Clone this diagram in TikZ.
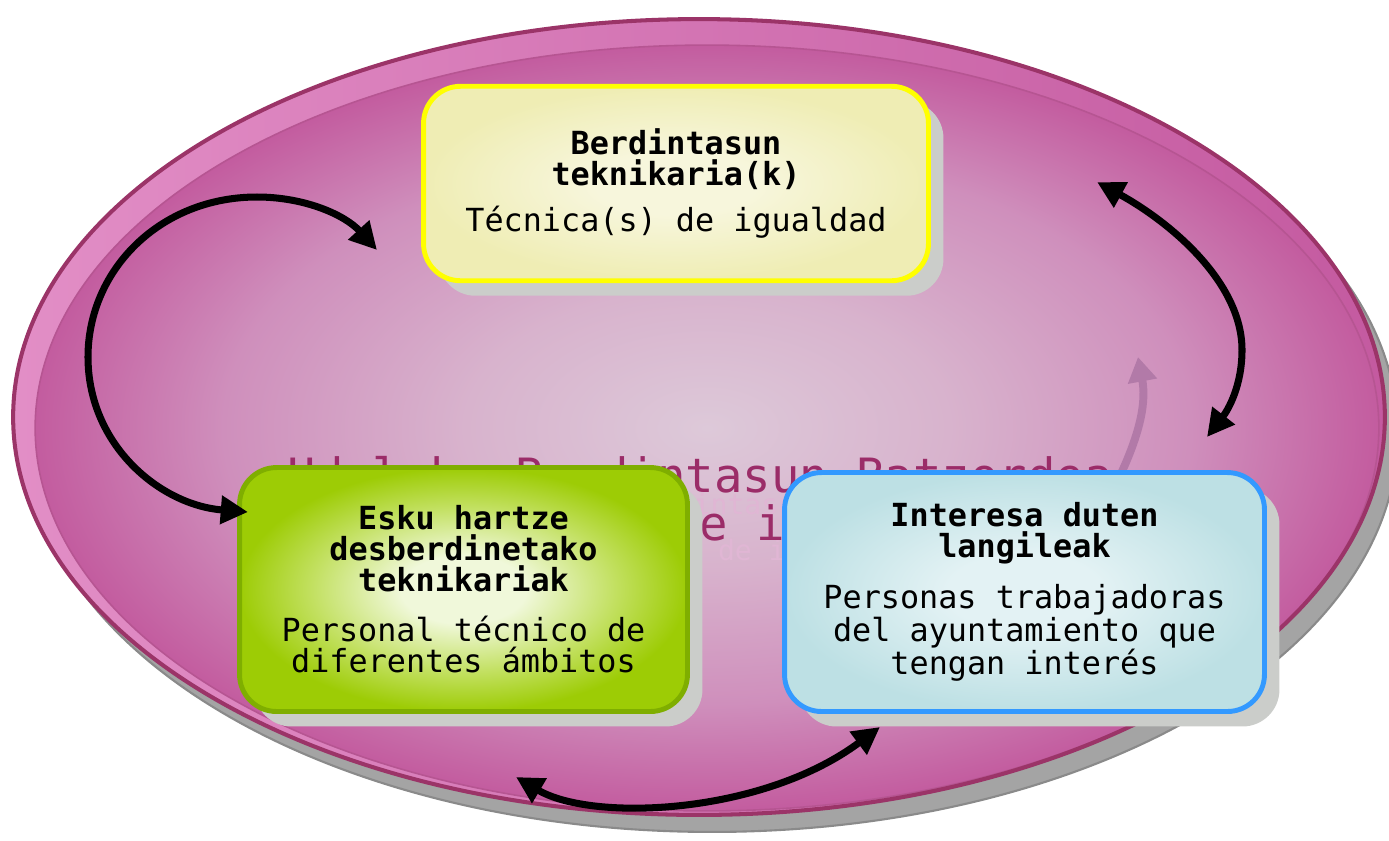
\documentclass[tikz,border=0pt]{standalone}
\usepackage{fontspec}
\newfontfamily\cardfont{DejaVu Sans Mono}
\usetikzlibrary{arrows.meta,shadows}
\definecolor{ellshadow}{HTML}{A4A4A4}
\definecolor{ellshadowD}{HTML}{8A8A8A}
\definecolor{rimL}{HTML}{E28EC6}
\definecolor{rimR}{HTML}{C45AA0}
\definecolor{ellborder}{HTML}{9B3468}
\definecolor{innerline}{HTML}{B65592}
\definecolor{ellC}{HTML}{DDC9D9}
\definecolor{ellC2}{HTML}{D8B3CD}
\definecolor{ellM}{HTML}{CF8FBC}
\definecolor{ellE}{HTML}{C35C9F}
\definecolor{bgmag}{HTML}{9B2C68}
\definecolor{ghostc}{HTML}{E0B6D4}
\definecolor{faintarr}{HTML}{B27AA8}
\definecolor{cardshadow}{HTML}{CBCDCA}
\definecolor{yborder}{HTML}{FFFF00}
\definecolor{yE}{HTML}{EFEDB4}
\definecolor{yC}{HTML}{F7F6DC}
\definecolor{gborder}{HTML}{7FAE00}
\definecolor{gE}{HTML}{9DCC05}
\definecolor{gM}{HTML}{C2E060}
\definecolor{gC}{HTML}{F0F8DA}
\definecolor{bborder}{HTML}{3399FF}
\definecolor{bE}{HTML}{BDE0E4}
\definecolor{bC}{HTML}{E3F2F4}
\pgfdeclareradialshading{ellglow}{\pgfpointorigin}{color(0bp)=(ellC); color(9bp)=(ellC2); color(18bp)=(ellM); color(25bp)=(ellE); color(50bp)=(ellE)}
\pgfdeclareradialshading{yglow}{\pgfpointorigin}{color(0bp)=(yC); color(8bp)=(yC); color(25bp)=(yE); color(50bp)=(yE)}
\pgfdeclareradialshading{gglow}{\pgfpointorigin}{color(0bp)=(gC); color(7bp)=(gC); color(17bp)=(gM); color(25bp)=(gE); color(50bp)=(gE)}
\pgfdeclareradialshading{bglow}{\pgfpointorigin}{color(0bp)=(bC); color(8bp)=(bC); color(25bp)=(bE); color(50bp)=(bE)}
\tikzset{
  card/.style={rounded corners=0.74cm, line width=2.8pt, inner sep=0pt, align=center,
    font=\cardfont\fontsize{18.1}{17.6}\selectfont, text=black,
    drop shadow={shadow xshift=0.3cm, shadow yshift=-0.3cm, fill=cardshadow, opacity=1}},
  bgtext/.style={inner sep=0pt, text=bgmag, font=\cardfont\fontsize{26.9}{30}\selectfont},
  ghost/.style={inner sep=0pt, text=ghostc, font=\cardfont\fontsize{16}{18}\selectfont},
  arr/.style={line width=4pt, {Triangle[length=15.5pt,width=15.5pt]}-{Triangle[length=15.5pt,width=15.5pt]}},
}
\begin{document}
\begin{tikzpicture}[x=0.02cm,y=-0.02cm]
\useasboundingbox (0,0) rectangle (1389,840);
\clip (0,0) rectangle (1389,840);
% big ellipse with shadow and rim
\filldraw[fill=ellshadow, draw=ellshadowD, line width=1.2pt] (712,434) ellipse [x radius=13.72cm, y radius=7.96cm];
\shade[left color=rimL, right color=rimR] (699,417) ellipse [x radius=13.72cm, y radius=7.96cm];
\shade[shading=ellglow] (707,428) ellipse [x radius=13.44cm, y radius=7.66cm];
\draw[innerline, line width=0.9pt] (707,428) ellipse [x radius=13.44cm, y radius=7.66cm];
\draw[ellborder, line width=2.3pt] (699,417) ellipse [x radius=13.72cm, y radius=7.96cm];
% background title (mostly hidden behind the cards)
\node[ghost, anchor=base] (gh1) at (736,514) {Udaleko Berdintasun Batzordea};
\node[ghost, anchor=base] (gh2) at (735,560) {Comisión de igualdad};
\node[bgtext, anchor=base] (bg1) at (700,492) {Udaleko Berdintasun Batzordea};
\node[bgtext, anchor=base] (bg2) at (700,540) {Comisión de igualdad};
% faint arrow
\coordinate (fa1) at (1118,480);
\coordinate (fa2) at (1138,357);
\draw[faintarr, line width=4.5pt, -{Triangle[length=14pt,width=16pt]}] (fa1) .. controls (1142,430) and (1146,400) .. (fa2);
% cards
\node[card, draw=yborder, shade, shading=yglow, minimum width=10.1cm, minimum height=3.89cm] (tech) at (676,183.5)
  {\textbf{Berdintasun}\\\textbf{teknikaria(k)}\\[9pt]Técnica(s) de igualdad};
\node[card, draw=gborder, shade, shading=gglow, minimum width=8.96cm, minimum height=4.88cm] (esku) at (463.5,589.5)
  {\textbf{Esku hartze}\\\textbf{desberdinetako}\\\textbf{teknikariak}\\[11pt]Personal técnico de\\diferentes ámbitos};
\node[card, draw=bborder, shade, shading=bglow, minimum width=9.6cm, minimum height=4.78cm] (lang) at (1024.5,592)
  {\textbf{Interesa duten}\\\textbf{langileak}\\[11.4pt]Personas trabajadoras\\del ayuntamiento que\\tengan interés};
% arrows
\coordinate (a1s) at (377,250);
\coordinate (a1e) at (248,512);
\draw[arr] (a1s) .. controls (345,215) and (305,197) .. (257,197)
                 .. controls (160,197) and (88,270) .. (88,357)
                 .. controls (88,445) and (160,505) .. (a1e);
\coordinate (a2s) at (1097,182);
\coordinate (a2e) at (1207,437);
\draw[arr] (a2s) .. controls (1170,222) and (1242,282) .. (1242,350)
                 .. controls (1242,386) and (1228,410) .. (a2e);
\coordinate (a3s) at (516,777);
\coordinate (a3e) at (880,727);
\draw[arr] (a3s) .. controls (592,822) and (762,815) .. (a3e);
\end{tikzpicture}
\end{document}
